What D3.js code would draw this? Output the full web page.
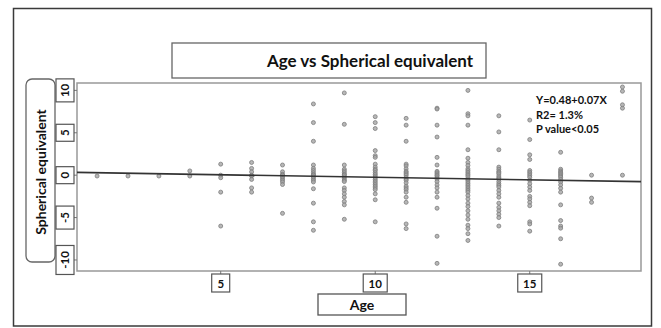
<!DOCTYPE html>
<html>
<head>
<meta charset="utf-8">
<script src="https://cdn.jsdelivr.net/npm/d3@7"></script>
<style>
  body { margin: 0; background: #fff; }
  svg { display: block; font-family: Lato, "Open Sans", sans-serif; }
</style>
</head>
<body>
<svg id="chart" width="661" height="328"></svg>
<script>
// ages (x) and spherical equivalent readings (y) per age
const ages = [1, 2, 3, 4, 5, 6, 7, 8, 9, 10, 11, 12, 13, 14, 15, 16, 17, 18];
const seValues = [
  [-0.1],
  [-0.1],
  [-0.1],
  [0.5, -0.1],
  [1.3, 0, -0.3, -2.0, -6.0],
  [1.5, 0.8, 0.4, 0, -0.1, -0.5, -1.5, -2.0],
  [1.2, 0.4, 0.1, 0, -0.2, -0.4, -0.6, -0.8, -1.1, -4.5],
  [8.4, 6.2, 4.0, 1.2, 0.8, 0.55, 0.3, 0.1, 0, -0.2, -0.4, -0.6, -0.8, -1.6, -3.3, -5.5, -6.5],
  [9.7, 6.0, 1.2, 0.7, 0.5, 0.3, 0.1, 0, -0.2, -0.4, -0.6, -0.75, -1.5, -1.8, -2.2, -2.6, -3.1, -3.5, -5.2],
  [6.9, 6.2, 5.5, 2.9, 2.3, 2.1, 1.3, 0.95, 0.7, 0.55, 0.3, 0.1, -0.1, -0.3, -0.5, -0.7, -0.9, -1.1, -1.3, -1.5, -1.7, -2.2, -2.9, -5.5],
  [6.7, 5.9, 4.0, 1.3, 1.1, 0.75, 0.45, 0.3, 0.15, 0, -0.25, -0.45, -0.6, -0.9, -1.3, -1.5, -1.7, -2.0, -2.6, -3.2, -5.75, -6.3],
  [7.9, 7.8, 5.9, 4.5, 2.1, 1.2, 0.45, 0.3, 0.15, 0, -0.1, -0.3, -0.45, -0.75, -1.15, -1.5, -2.0, -2.6, -3.9, -7.2, -10.4],
  [10.0, 7.25, 7.0, 5.9, 3.0, 2.0, 1.5, 1.15, 0.75, 0.55, 0.35, 0.15, 0, -0.2, -0.45, -0.6, -0.8, -1.0, -1.2, -1.4, -1.6, -1.8, -2.0, -2.4, -2.8, -3.3, -3.7, -4.2, -4.7, -5.2, -5.9, -6.3, -6.9, -7.7],
  [7.0, 5.1, 3.0, 0.95, 0.7, 0.45, 0.3, 0.15, -0.1, -0.3, -0.45, -0.75, -1.0, -1.2, -1.4, -1.8, -2.2, -2.6, -3.3, -3.8, -4.2, -4.6, -5.0, -6.0],
  [6.5, 4.2, 2.4, 1.85, 0.55, 0.35, 0.15, -0.05, -0.25, -0.6, -1.0, -1.4, -1.8, -2.5, -2.8, -3.2, -3.6, -5.5, -5.75, -6.6],
  [2.7, 0.7, 0.5, 0.35, 0.2, 0.05, -0.1, -0.25, -0.5, -0.8, -1.15, -1.55, -2.0, -3.5, -5.35, -6.0, -6.25, -7.5, -10.5],
  [0, -2.7, -3.2],
  [0, 7.9, 8.3, 9.9, 10.4]
];
const xTicks = [5, 10, 15];
const yTicks = [-10, -5, 0, 5, 10];
// fitted line as drawn (value at age 0, change per year)
const fitIntercept = 0.35;
const fitSlope = -0.06;
const noteLines = ["Y=0.48+0.07X", "R2= 1.3%", "P value<0.05"];
const titleText = "Age vs Spherical equivalent";
const xLabel = "Age";
const yLabel = "Spherical equivalent";

const svg = d3.select("#chart");
const plot = { left: 77, right: 641, top: 83, bottom: 271 };

const x = d3.scaleLinear().domain([0.35, 18.6]).range([plot.left, plot.right]);
const y = d3.scaleLinear().domain([-11.3, 10.87]).range([plot.bottom, plot.top]);

// outer frame
svg.append("rect")
  .attr("x", 13.5).attr("y", 8.5).attr("width", 638).attr("height", 317.5)
  .attr("fill", "none").attr("stroke", "#3a3a3a").attr("stroke-width", 1.5);

// title box
svg.append("rect")
  .attr("x", 172).attr("y", 43).attr("width", 314).attr("height", 35)
  .attr("fill", "#fff").attr("stroke", "#666").attr("stroke-width", 1.3);
svg.append("text")
  .attr("x", 370).attr("y", 66.5)
  .attr("text-anchor", "middle")
  .attr("font-size", 17).attr("font-weight", "bold").attr("fill", "#111")
  .text(titleText);

// plot box
svg.append("rect")
  .attr("x", plot.left).attr("y", plot.top)
  .attr("width", plot.right - plot.left).attr("height", plot.bottom - plot.top)
  .attr("fill", "none").attr("stroke", "#999").attr("stroke-width", 1.5);

// y label box (rounded)
svg.append("rect")
  .attr("x", 26).attr("y", 79).attr("width", 29).attr("height", 183).attr("rx", 6)
  .attr("fill", "#fff").attr("stroke", "#666").attr("stroke-width", 1.3);
svg.append("text")
  .attr("transform", "translate(45.5,172) rotate(-90)")
  .attr("text-anchor", "middle")
  .attr("font-size", 14).attr("font-weight", "bold").attr("fill", "#111")
  .text(yLabel);

// y ticks with boxed labels
const yTickG = svg.append("g").selectAll("g")
  .data(yTicks).enter().append("g")
  .attr("transform", d => "translate(0," + y(d) + ")");
yTickG.append("line")
  .attr("x1", 74).attr("x2", plot.left)
  .attr("stroke", "#777").attr("stroke-width", 1);
yTickG.append("rect")
  .attr("x", 56).attr("width", 18)
  .attr("y", d => -(String(d).length * 6 + 11) / 2)
  .attr("height", d => String(d).length * 6 + 11)
  .attr("fill", "#fff").attr("stroke", "#555").attr("stroke-width", 1.2);
yTickG.append("text")
  .attr("transform", "translate(69,0) rotate(-90)")
  .attr("text-anchor", "middle")
  .attr("font-size", 11.5).attr("font-weight", "bold").attr("fill", "#111")
  .text(d => d);

// x ticks with boxed labels
const xTickG = svg.append("g").selectAll("g")
  .data(xTicks).enter().append("g")
  .attr("transform", d => "translate(" + x(d) + ",0)");
xTickG.append("line")
  .attr("y1", plot.bottom).attr("y2", 274)
  .attr("stroke", "#777").attr("stroke-width", 1);
xTickG.append("rect")
  .attr("x", d => -(String(d).length * 6 + 12) / 2)
  .attr("width", d => String(d).length * 6 + 12)
  .attr("y", 274).attr("height", 18)
  .attr("fill", "#fff").attr("stroke", "#555").attr("stroke-width", 1.2);
xTickG.append("text")
  .attr("y", 287.5)
  .attr("text-anchor", "middle")
  .attr("font-size", 11.5).attr("font-weight", "bold").attr("fill", "#111")
  .text(d => d);

// x label box
svg.append("rect")
  .attr("x", 318).attr("y", 294).attr("width", 88).attr("height", 21)
  .attr("fill", "#fff").attr("stroke", "#555").attr("stroke-width", 1.3);
svg.append("text")
  .attr("x", 362).attr("y", 310)
  .attr("text-anchor", "middle")
  .attr("font-size", 14).attr("font-weight", "bold").attr("fill", "#111")
  .text(xLabel);

// points
const points = [];
ages.forEach((a, i) => seValues[i].forEach(v => points.push({ age: a, se: v })));

svg.append("g").selectAll("circle")
  .data(points).enter().append("circle")
  .attr("cx", d => x(d.age))
  .attr("cy", d => y(d.se))
  .attr("r", 2)
  .attr("fill", "#a5a5a5").attr("fill-opacity", 0.8)
  .attr("stroke", "#7d7d7d").attr("stroke-width", 0.8);

// regression line
const xd = x.domain();
svg.append("line")
  .attr("x1", x(xd[0])).attr("y1", y(fitIntercept + fitSlope * xd[0]))
  .attr("x2", x(xd[1])).attr("y2", y(fitIntercept + fitSlope * xd[1]))
  .attr("stroke", "#333").attr("stroke-width", 1.6);

// annotation
svg.append("g").selectAll("text")
  .data(noteLines).enter().append("text")
  .attr("x", 536)
  .attr("y", (d, i) => 104 + i * 14.5)
  .attr("font-size", 11).attr("font-weight", "bold").attr("fill", "#111")
  .text(d => d);
</script>
</body>
</html>
